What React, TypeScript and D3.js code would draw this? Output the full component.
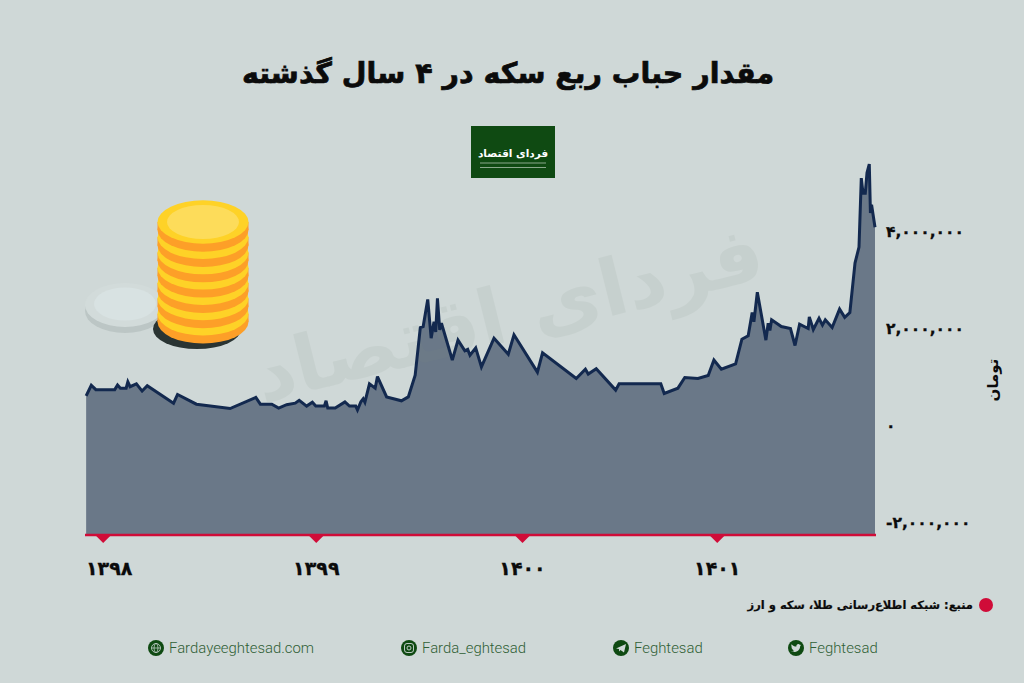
import React, { useRef, useEffect } from 'react';
import * as d3 from 'd3';

// days counted from the left edge of the series (about 1397/12)
const days = [2, 11, 19, 52, 57, 62, 72, 75, 79, 90, 100, 109, 155, 162, 195, 254, 299, 307, 327, 339, 353, 368, 375, 388, 398, 404, 419, 422, 425, 438, 455, 463, 474, 477, 483, 487, 490, 498, 508, 512, 528, 554, 566, 578, 587, 592, 600, 606, 611, 614, 617, 621, 624, 643, 653, 665, 670, 674, 684, 694, 716, 741, 751, 792, 801, 860, 876, 881, 895, 929, 935, 1008, 1014, 1038, 1050, 1073, 1091, 1101, 1114, 1139, 1150, 1161, 1168, 1171, 1177, 1192, 1196, 1199, 1202, 1219, 1235, 1243, 1251, 1266, 1268, 1275, 1285, 1291, 1296, 1308, 1321, 1330, 1339, 1348, 1355, 1359, 1362, 1366, 1369, 1373, 1375, 1377, 1383];

// bubble of the quarter coin, thousand toman
const bubble = [620, 840, 750, 750, 845, 780, 780, 910, 810, 870, 720, 830, 470, 650, 450, 360, 590, 450, 450, 370, 440, 470, 530, 410, 490, 410, 410, 520, 370, 370, 495, 410, 410, 330, 500, 560, 490, 870, 780, 1020, 600, 520, 600, 1050, 2030, 2050, 2610, 1810, 2150, 1940, 2630, 1980, 2120, 1360, 1770, 1550, 1580, 1460, 1610, 1220, 1810, 1480, 1880, 1110, 1510, 980, 1170, 1070, 1180, 740, 870, 870, 670, 780, 1000, 980, 1040, 1360, 1170, 1280, 1790, 1860, 2340, 2150, 2760, 1770, 2120, 1970, 2190, 2050, 2010, 1660, 2100, 2010, 2250, 1990, 2220, 2080, 2190, 2030, 2410, 2240, 2340, 3360, 3690, 5110, 4800, 4800, 5220, 5400, 4390, 4560, 4100];

const yearDays = [31, 404, 765, 1106];
const yearLabels = ['۱۳۹۸', '۱۳۹۹', '۱۴۰۰', '۱۴۰۱'];
const yTicks = [-2000000, 0, 2000000, 4000000];

const footer = [
  { icon: 'globe', label: 'Fardayeeghtesad.com', x: 156 },
  { icon: 'insta', label: 'Farda_eghtesad', x: 409 },
  { icon: 'telegram', label: 'Feghtesad', x: 621 },
  { icon: 'twitter', label: 'Feghtesad', x: 796 },
];

const BG = '#cfd8d7';
const INK = '#0b0b0b';
const FA = 'DejaVu Sans';
const toPersian = (s: string) => s.replace(/\d/g, (d) => '۰۱۲۳۴۵۶۷۸۹'[+d]).replace('−', '-');

const App = () => {
  const chartRef = useRef<SVGSVGElement>(null);

  useEffect(() => {
    const svg = d3.select(chartRef.current);
    svg.selectAll('*').remove();

    const left = 85, right = 875, bottom = 535;
    const x = d3.scaleLinear().domain([0, 1383]).range([left, right]);
    const y = d3.scaleLinear().domain([-2000000, 4000000]).range([523, 232]);
    const points = days.map((d, i) => [d, bubble[i] * 1000] as [number, number]);

    svg.append('rect').attr('width', 1024).attr('height', 683).attr('fill', BG);

    // title + logo
    svg.append('text').attr('x', 508).attr('y', 83).attr('text-anchor', 'middle')
      .attr('direction', 'rtl').attr('font-family', FA).attr('font-weight', 700).attr('font-size', 28.5)
      .attr('fill', INK).attr('stroke', INK).attr('stroke-width', 0.7).text('مقدار حباب ربع سکه در ۴ سال گذشته');
    svg.append('rect').attr('x', 471).attr('y', 126).attr('width', 84).attr('height', 52).attr('fill', '#0f4a12');
    svg.append('text').attr('x', 513).attr('y', 157).attr('text-anchor', 'middle').attr('direction', 'rtl')
      .attr('font-family', FA).attr('font-weight', 700).attr('font-size', 10.5).attr('fill', '#fff').text('فردای اقتصاد');
    [163, 167.5].forEach((ly) => svg.append('line').attr('x1', 480).attr('x2', 546).attr('y1', ly).attr('y2', ly)
      .attr('stroke', '#dfe8df').attr('stroke-width', 0.6));

    // area
    const area = d3.area<[number, number]>().x((d) => x(d[0])).y0(bottom).y1((d) => y(d[1]));
    svg.append('path').datum(points).attr('d', area).attr('fill', '#6a7888');

    // watermark
    svg.append('text').attr('transform', 'translate(515,340) rotate(-14)').attr('text-anchor', 'middle')
      .attr('direction', 'rtl').attr('font-family', FA).attr('font-weight', 700).attr('font-size', 78)
      .attr('fill', '#7f9183').attr('opacity', 0.1).text('فردای اقتصاد');

    // line
    const line = d3.line<[number, number]>().x((d) => x(d[0])).y((d) => y(d[1]));
    svg.append('path').datum(points).attr('d', line).attr('fill', 'none')
      .attr('stroke', '#13294f').attr('stroke-width', 3).attr('stroke-linejoin', 'miter').attr('stroke-miterlimit', 3);

    // y axis
    const yAxis = svg.append('g').attr('transform', 'translate(886,0)')
      .call(d3.axisRight(y).tickValues(yTicks).tickSize(0).tickPadding(0).tickFormat((d) => toPersian(d3.format(',')(d as number))));
    yAxis.select('.domain').remove();
    yAxis.selectAll('text').attr('font-family', FA).attr('font-weight', 700).attr('font-size', 15.5)
      .attr('fill', INK).attr('stroke', INK).attr('stroke-width', 0.3).attr('direction', 'ltr');

    svg.append('text').attr('transform', 'translate(998,380) rotate(-90)').attr('text-anchor', 'middle')
      .attr('direction', 'rtl').attr('font-family', FA).attr('font-weight', 700).attr('font-size', 15)
      .attr('fill', INK).text('تومان');

    // x axis
    const xAxis = svg.append('g').attr('transform', `translate(0,${bottom})`)
      .call(d3.axisBottom(x).tickValues(yearDays).tickSize(0).tickPadding(0).tickFormat((_, i) => yearLabels[i]));
    xAxis.select('.domain').remove();
    xAxis.selectAll('.tick').append('path').attr('d', 'M-8,0L8,0L0,8Z').attr('fill', '#d00c38');
    xAxis.selectAll('text').attr('y', 40).attr('dy', 0).attr('font-family', FA).attr('font-weight', 700)
      .attr('font-size', 19).attr('fill', INK).attr('stroke', INK).attr('stroke-width', 0.3).attr('direction', 'ltr');
    xAxis.select('.tick text').attr('dx', 6);
    svg.append('line').attr('x1', left).attr('x2', right + 1).attr('y1', bottom).attr('y2', bottom)
      .attr('stroke', '#d00c38').attr('stroke-width', 2.6);

    // coins
    const coins = svg.append('g');
    coins.append('ellipse').attr('cx', 125).attr('cy', 311).attr('rx', 40).attr('ry', 22).attr('fill', '#bcc6c5');
    coins.append('ellipse').attr('cx', 125).attr('cy', 305).attr('rx', 40).attr('ry', 22).attr('fill', '#d2dbda');
    coins.append('ellipse').attr('cx', 125).attr('cy', 304).attr('rx', 31).attr('ry', 16.5).attr('fill', '#d8e2e2');
    coins.append('ellipse').attr('cx', 197).attr('cy', 329).attr('rx', 44).attr('ry', 20).attr('fill', '#2a3433');
    d3.range(6, -1, -1).forEach((i) => {
      const cy = 222 + i * 15.3;
      coins.append('ellipse').attr('cx', 203).attr('cy', cy + 8).attr('rx', 45.5).attr('ry', 21.7).attr('fill', '#fd9f28');
      coins.append('rect').attr('x', 157.5).attr('y', cy).attr('width', 91).attr('height', 8).attr('fill', '#fd9f28');
      coins.append('ellipse').attr('cx', 203).attr('cy', cy).attr('rx', 45.5).attr('ry', 21.7).attr('fill', '#fed227');
    });
    coins.append('ellipse').attr('cx', 203).attr('cy', 222).attr('rx', 36).attr('ry', 17).attr('fill', '#fddc5a');

    // source
    svg.append('circle').attr('cx', 986).attr('cy', 605).attr('r', 7).attr('fill', '#d00c38');
    svg.append('text').attr('x', 973).attr('y', 609).attr('text-anchor', 'start').attr('direction', 'rtl')
      .attr('font-family', FA).attr('font-weight', 700).attr('font-size', 11.5).attr('fill', INK)
      .attr('stroke', INK).attr('stroke-width', 0.2).text('منبع: شبکه اطلاع‌رسانی طلا، سکه و ارز');

    // footer
    footer.forEach((f) => {
      const g = svg.append('g').attr('transform', `translate(${f.x},648)`);
      g.append('circle').attr('r', 8).attr('fill', '#0f4a12');
      if (f.icon === 'globe') {
        g.append('circle').attr('r', 4.5).attr('fill', 'none').attr('stroke', BG).attr('stroke-width', 0.8);
        g.append('ellipse').attr('rx', 2).attr('ry', 4.5).attr('fill', 'none').attr('stroke', BG).attr('stroke-width', 0.7);
        g.append('path').attr('d', 'M-4.5,0H4.5').attr('stroke', BG).attr('stroke-width', 0.7);
      } else if (f.icon === 'insta') {
        g.append('rect').attr('x', -4.5).attr('y', -4.5).attr('width', 9).attr('height', 9).attr('rx', 2.5)
          .attr('fill', 'none').attr('stroke', BG).attr('stroke-width', 0.9);
        g.append('circle').attr('r', 2).attr('fill', 'none').attr('stroke', BG).attr('stroke-width', 0.9);
      } else if (f.icon === 'telegram') {
        g.append('path').attr('d', 'M-5,0.5L5,-4L3,4.5L-0.5,2L-2,3.5L-2,1Z').attr('fill', BG);
      } else {
        g.append('path').attr('d', 'M-5,3.5C-2,5 4,4 4.2,-2L5.2,-3.2L4,-3C3,-4.6 0,-4 0.4,-1.4C-1.5,-1.5 -3.2,-2.4 -4.4,-3.8C-5,-2.5 -4.6,-1.2 -3.7,-0.5L-4.6,-0.8C-4.5,0.4 -3.6,1.2 -2.6,1.5L-3.6,1.6C-3.2,2.4 -2.4,2.9 -1.5,3C-2.4,3.6 -3.6,3.8 -5,3.5Z').attr('fill', BG);
      }
      svg.append('text').attr('x', f.x + 13).attr('y', 653).attr('font-family', 'Roboto').attr('font-weight', 300)
        .attr('font-size', 14.9).attr('fill', '#2f5f35').text(f.label);
    });
  }, []);

  return (
    <svg ref={chartRef} width="1024" height="683" style={{ position: 'absolute', left: 0, top: 0, display: 'block' }}></svg>
  );
};

export default App;
